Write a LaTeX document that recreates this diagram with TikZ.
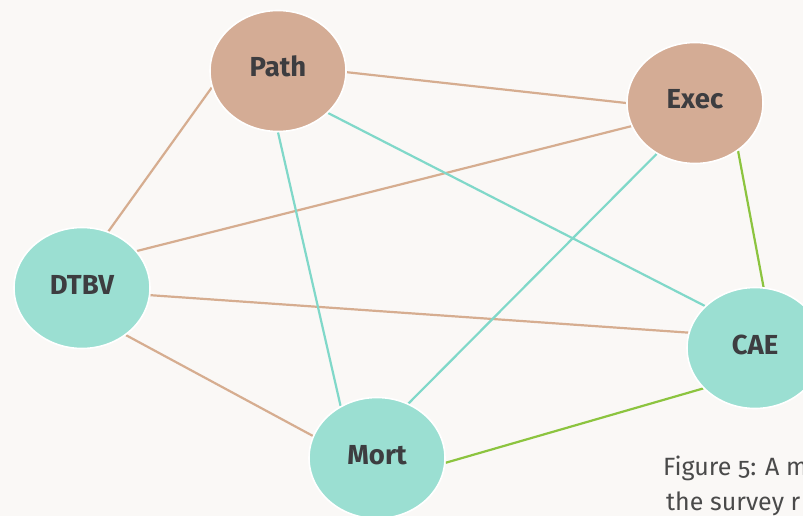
\documentclass[tikz,border=0pt]{standalone}
\usepackage{fontspec}
\setmainfont{Fira Sans}
\newfontfamily\capfont[Numbers=OldStyle]{Fira Sans}
\usetikzlibrary{shapes.geometric}
\definecolor{paper}{HTML}{FAF8F6}
\definecolor{tanfill}{HTML}{D4AC95}
\definecolor{tealfill}{HTML}{9BDFD2}
\definecolor{tanline}{HTML}{D6AD90}
\definecolor{tealline}{HTML}{80D8C9}
\definecolor{greenline}{HTML}{8CC43F}
\definecolor{labeltext}{HTML}{3D3D40}
\definecolor{captext}{HTML}{4A4A4A}
\pgfdeclarelayer{bg}
\pgfsetlayers{bg,main}
\tikzset{
  topic/.style={ellipse, draw=white, line width=1.6pt, inner sep=0pt,
    minimum width=136pt, minimum height=121pt,
    text height=20pt, text depth=8pt,
    font=\fontsize{27.5}{30}\selectfont\bfseries, text=labeltext},
  tannode/.style={topic, fill=tanfill},
  tealnode/.style={topic, fill=tealfill},
  link/.style={line width=2.2pt},
  tanlink/.style={link, draw=tanline},
  teallink/.style={link, draw=tealline},
  greenlink/.style={link, draw=greenline},
  caption/.style={anchor=base west, inner sep=0pt, text=captext,
    font=\capfont\fontsize{25}{28}\selectfont}
}
\begin{document}
\begin{tikzpicture}[x=1pt,y=-1pt]
\useasboundingbox (0,0) rectangle (803,516);
\begin{pgfonlayer}{bg}
  \fill[paper] (0,0) rectangle (803,516);
\end{pgfonlayer}

% topics
\node[tannode]  (path) at (278,71)  {Path};
\node[tannode]  (exec) at (695,103) {Exec};
\node[tealnode] (dtbv) at (82,288)  {DTBV};
\node[tealnode] (cae)  at (755,348) {CAE};
\node[tealnode] (mort) at (377,458) {Mort};

% links
\begin{pgfonlayer}{bg}
  \draw[tanlink]   (path.-1)  -- (exec.180);
  \draw[tanlink]   (path.194) -- (dtbv.65);
  \draw[tanlink]   (exec.200) -- (dtbv.34);
  \draw[tanlink]   (dtbv.-6)  -- (cae.167);
  \draw[tanlink]   (dtbv.-47) -- (mort.161);
  \draw[teallink]  (path.-90) -- (mort.125);
  \draw[teallink]  (path.-40) -- (cae.140);
  \draw[teallink]  (exec.233) -- (mort.60);
  \draw[greenlink] (exec.-48) -- (cae.82);
  \draw[greenlink] (mort.-4)  -- (cae.218);
\end{pgfonlayer}

% caption
\node[caption] (cap1) at (663,475) {Figure 5: A m};
\node[caption] (cap2) at (666,510) {the survey r};
\end{tikzpicture}
\end{document}
